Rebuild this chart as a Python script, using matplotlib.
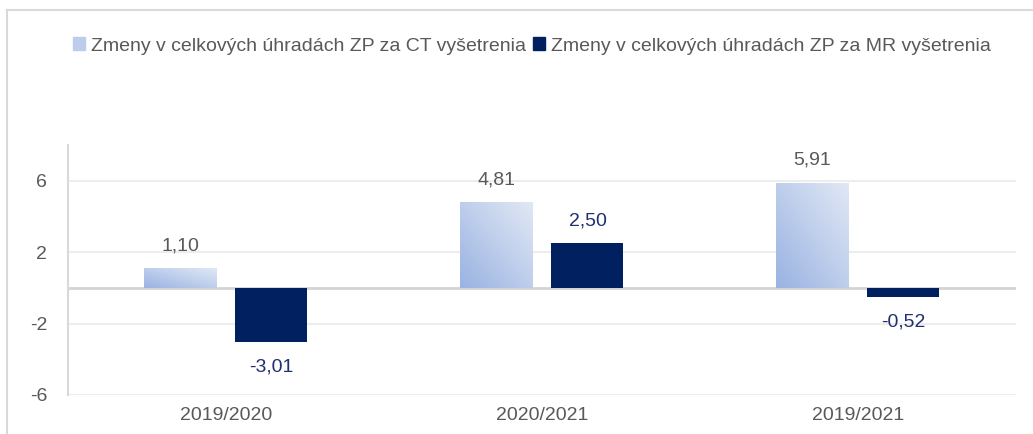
import matplotlib.pyplot as plt
import numpy as np
from matplotlib.patches import Rectangle
from matplotlib.lines import Line2D

plt.rcParams['font.family'] = ['Liberation Sans', 'DejaVu Sans']

categories = ['2019/2020', '2020/2021', '2019/2021']
ct_values = [1.10, 4.81, 5.91]
mr_values = [-3.01, 2.50, -0.52]
labels = ['Zmeny v celkových úhradách ZP za CT vyšetrenia',
          'Zmeny v celkových úhradách ZP za MR vyšetrenia']
yticks = [-6, -2, 2, 6]

navy = '#002060'
text_gray = '#595959'
fs = 14

fig = plt.figure(figsize=(10.33, 4.34), dpi=100)
ax = fig.add_axes([0.0658, 0.0899, 0.9177, 0.5755])

x = np.arange(len(categories))
w = 0.228
gap = 0.06
ct_x = x - (w + gap) / 2
mr_x = x + (w + gap) / 2

ct_bars = ax.bar(ct_x, ct_values, w, color='none', edgecolor='none', zorder=3)
mr_bars = ax.bar(mr_x, mr_values, w, color=navy, zorder=3)

# diagonal gradient for CT bars (darker bottom-left, lighter top-right)
cmap = plt.matplotlib.colors.LinearSegmentedColormap.from_list('ct', ['#9AB3E2', '#E1E8F5'])
gx, gy = np.meshgrid(np.linspace(0, 1, 64), np.linspace(0, 1, 64))
grad = (gx + gy) / 2
for b in ct_bars:
    x0, y0 = b.get_x(), b.get_y()
    im = ax.imshow(grad, cmap=cmap, origin='lower', aspect='auto',
                   extent=[x0, x0 + b.get_width(), y0, y0 + b.get_height()], zorder=3)
    im.set_clip_path(b)

for b, v in zip(ct_bars, ct_values):
    ax.annotate(f'{v:.2f}'.replace('.', ','), (b.get_x() + b.get_width() / 2, v),
                xytext=(0, 10), textcoords='offset points', ha='center', va='bottom',
                fontsize=fs, color=text_gray)
for b, v in zip(mr_bars, mr_values):
    off = 10 if v >= 0 else -12
    ax.annotate(f'{v:.2f}'.replace('.', ','), (b.get_x() + b.get_width() / 2, v),
                xytext=(0, off), textcoords='offset points', ha='center',
                va='bottom' if v >= 0 else 'top', fontsize=fs, color='#1F3070')

ax.set_xlim(-0.5, 2.5)
ax.set_ylim(-6, 8)
ax.set_yticks(yticks)
ax.set_yticklabels([str(t) for t in yticks])
ax.set_xticks(x)
ax.set_xticklabels(categories)
ax.tick_params(length=0, labelsize=fs, labelcolor=text_gray)
ax.tick_params(axis='y', pad=15)
ax.tick_params(axis='x', pad=9)
ax.grid(axis='y', color='#EDEDED', linewidth=1.5, zorder=0)
ax.axhline(0, color='#D4D4D4', linewidth=2, zorder=2)
for s in ['top', 'right', 'bottom']:
    ax.spines[s].set_visible(False)
ax.spines['left'].set_color('#D9D9D9')
ax.spines['left'].set_linewidth(1.5)

handles = [Rectangle((0, 0), 1, 1, color='#BCCDEB'), Rectangle((0, 0), 1, 1, color=navy)]
fig.legend(handles, labels, loc='center', bbox_to_anchor=(0.515, 0.894), ncol=2,
           frameon=False, fontsize=fs, labelcolor=text_gray, handlelength=0.6,
           handleheight=0.6, handletextpad=0.3, columnspacing=0.4)

# chart frame
fig.add_artist(Line2D([7 / 1033, 7 / 1033], [0, 1 - 10 / 434], color='#D9D9D9', lw=1.5))
fig.add_artist(Line2D([7 / 1033, 1], [1 - 10 / 434, 1 - 10 / 434], color='#D9D9D9', lw=1.5))

fig.savefig('out.png', dpi=100)
